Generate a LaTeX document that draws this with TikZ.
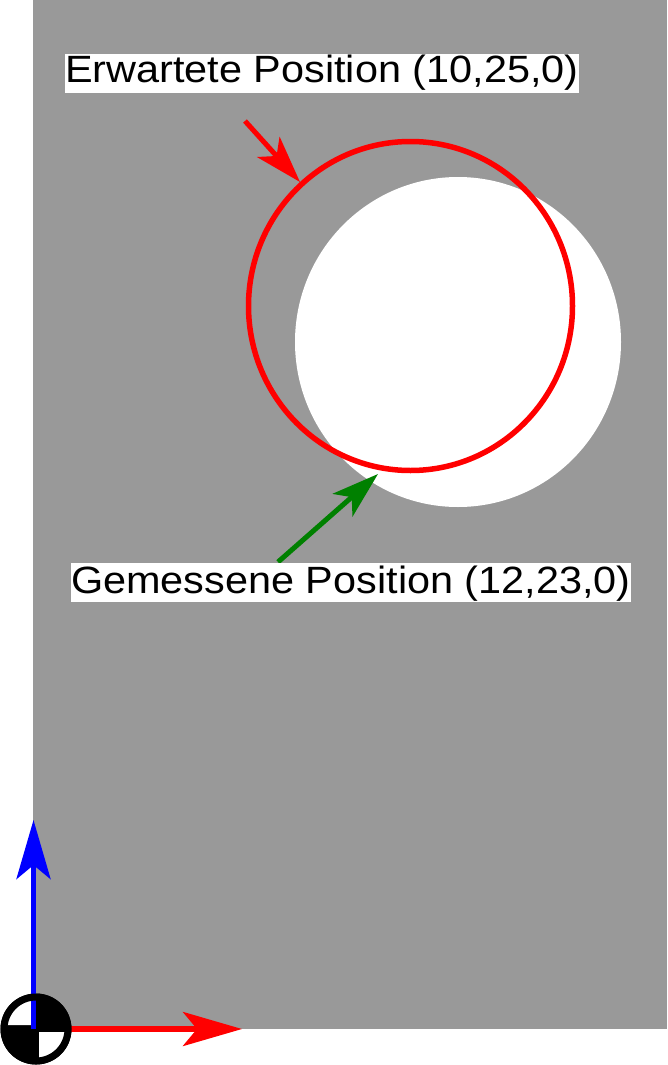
\documentclass[tikz,border=0pt]{standalone}
\usepackage{fontspec}
\setmainfont{Liberation Sans}
\usetikzlibrary{arrows.meta}
\definecolor{plate}{HTML}{999999}
\definecolor{pure red}{HTML}{FF0000}
\definecolor{pure blue}{HTML}{0000FF}
\definecolor{dark green}{HTML}{008000}
\begin{document}
\begin{tikzpicture}[x=1pt,y=-1pt,
  lbl/.style={fill=white, inner xsep=0pt, inner ysep=0pt, anchor=base west,
    font=\fontsize{38}{40}\selectfont},
  bigtip/.style={-{Stealth[length=59pt,width=34pt,inset=14pt]}, line width=5.5pt},
  smalltip/.style={-{Stealth[length=47pt,width=30pt,inset=12pt]}, line width=5pt}]
\useasboundingbox (0,0) rectangle (667,1065);
% plate
\fill[plate] (33,0) rectangle (667,1028.5);
% measured hole
\fill[white] (458,342) ellipse[x radius=163, y radius=165];
% expected hole
\draw[pure red, line width=5.5pt] (410.5,306) ellipse[x radius=162, y radius=164.5];
% coordinates for connectors
\coordinate (gt) at (278,562);
\coordinate (gh) at (378,474);
\coordinate (rt) at (245,121);
\coordinate (rh) at (300,182);
\draw[smalltip, dark green] (gt) -- (gh);
% labels
\node[lbl, text height=28pt, text depth=11pt] (erw) at (65,82)
  {\scalebox{1.09}[1]{Erwartete Position (10,25,0)}};
\node[lbl, text height=30pt, text depth=9pt] (gem) at (71,593)
  {\scalebox{1.09}[1]{Gemessene Position (12,23,0)}};
\draw[smalltip, pure red] (rt) -- (rh);
% axes
\coordinate (o) at (36,1029);
\coordinate (oy) at (33.5,1029);
\coordinate (xt) at (242,1029);
\coordinate (yt) at (33.5,820);
\draw[bigtip, pure red] (o) -- (xt);
% origin symbol
\fill[black] (o) circle[radius=35.5];
\fill[white] (31,1025) -- (6,1025) arc[start angle=180, end angle=270, radius=25] -- cycle;
\fill[white] (39,1032) -- (65,1032) arc[start angle=0, end angle=90, radius=26] -- cycle;
\draw[bigtip, pure blue] (oy) -- (yt);
\draw[black, line width=7pt] (o) circle[radius=32];
\end{tikzpicture}
\end{document}
